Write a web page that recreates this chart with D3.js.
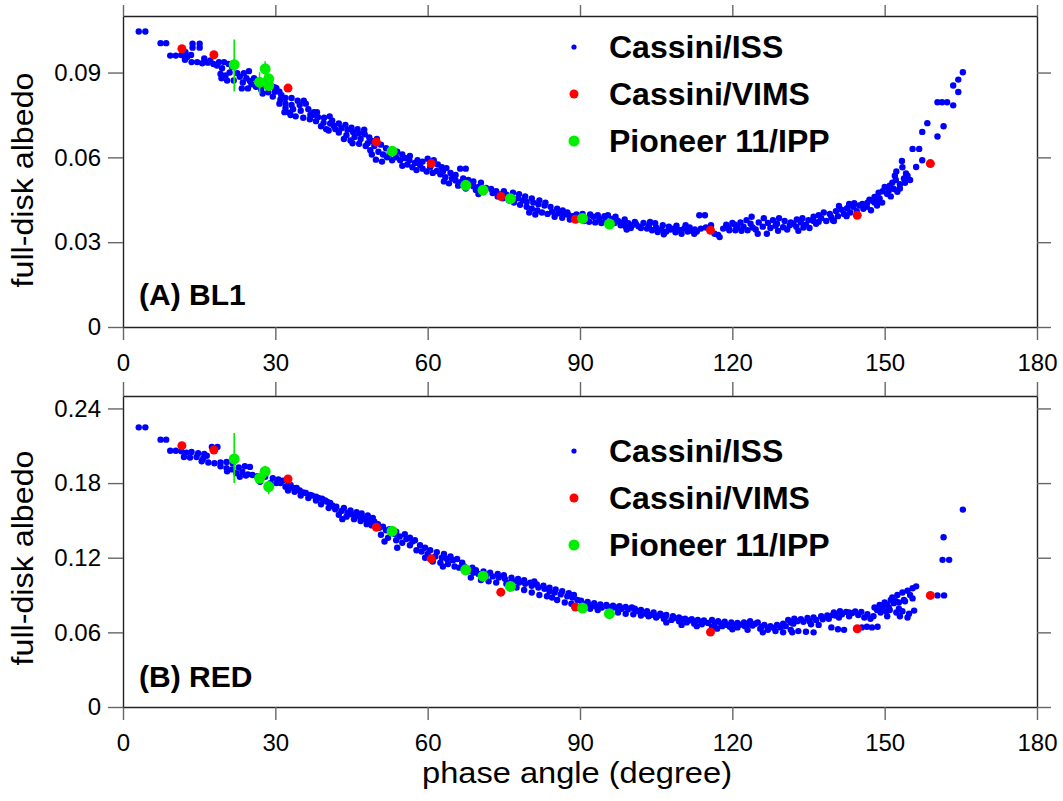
<!DOCTYPE html>
<html>
<head>
<meta charset="utf-8">
<script src="https://cdn.jsdelivr.net/npm/d3@7"></script>
<style>
  body { margin: 0; background: #fff; }
  svg { display: block; font-family: "Liberation Sans", Arial, Helvetica, sans-serif; }
</style>
</head>
<body>
<svg id="chart" width="1063" height="801"></svg>
<script>
// Phase angle ticks and albedo ticks for both panels.
const xTicks = [0, 30, 60, 90, 120, 150, 180];
const yTicksA = [0, 0.03, 0.06, 0.09];
const yTicksB = [0, 0.06, 0.12, 0.18, 0.24];
const legendNames = ["Cassini/ISS", "Cassini/VIMS", "Pioneer 11/IPP"];

// (A) BL1: Cassini/ISS [phase, albedo]
const issA = [
  [3.1,.1045],[4.4,.1045],[7.4,.1004],[8.5,.1004],
  [13.7,.1002],[15.1,.1002],[13.7,.0988],[15.1,.0988],
  [9.3,.096],[10.4,.096],[11.5,.0962],[12.3,.0972],[12.6,.0955],[13.4,.0962],[12.2,.0945],
  [13.5,.0937],[14.6,.0937],[15.6,.0933],[16.7,.0935],[17.8,.0930],[18.9,.0937],[19.9,.0937],[20.8,.0930],[17.2,.0943],[16.0,.0950],
  [19.2,.0895],[19.4,.0880],[20.5,.0872],[21.8,.0872],[23.0,.0885],[23.8,.0898],[24.3,.0880],[25.0,.0870],[23.6,.0865],[20.2,.0890],
  [21.0,.0900],[22.5,.0898],[24.8,.0905],[25.8,.0880],[26.5,.0870],[27.8,.0860],[29.0,.0858],[30.2,.0845],[31.2,.0820],[29.5,.0815],[19.5,.0915],[18.5,.0925],[21.5,.0920],
  [23.4,.0844],[24.6,.0844],
  [25.3,.0858],[26.2,.0850],[27.2,.0840],[28.6,.0830],[29.9,.0832],[30.8,.0832],[29.8,.0848],[27.5,.0826],
  [32.0,.0810],[33.2,.0810],[34.4,.0800],[32.0,.0790],[33.2,.0785],[34.8,.0785],[36.0,.0790],[32.0,.0775],[33.5,.0770],[35.0,.0765],[36.5,.0770],[37.6,.0760],[32.8,.0758],
  [34.0,.0745],[35.5,.0740],[36.8,.0735],[33.0,.0750],[31.8,.0760],[30.8,.0790],[31.0,.0805],[35.6,.0800],[36.9,.0750],[38.2,.0760],
  [37.4,.0750],[38.4,.0742],[39.6,.0740],[40.7,.0745],[38.0,.0728],[39.5,.0722],[40.8,.0720],[41.2,.0730],[39.0,.0710],
  [40.0,.0700],[41.5,.0712],[42.5,.0720],[43.8,.0715],[45.0,.0705],[46.2,.0700],[47.5,.0698],
  [40.5,.0695],[41.8,.0700],[43.0,.0703],[44.2,.0698],[45.3,.0690],[46.5,.0685],[47.6,.0682],[42.5,.0688],[44.0,.0678],[45.6,.0672],[46.8,.0665],[43.5,.0665],[44.8,.0660],
  [48.5,.0670],[49.0,.0658],[50.0,.0665],[45.2,.0650],[46.5,.0648],[47.8,.0640],[49.0,.0610],
  [48.2,.0650],[49.5,.0640],[50.8,.0645],[51.8,.0632],[48.7,.0625],[50.3,.0620],[51.2,.0610],[52.5,.0612],[53.8,.0600],[49.8,.0592],[53.0,.0590],[54.6,.0590],[55.5,.0598],[52.0,.0600],[51.0,.0585],
  [54.0,.0620],[55.0,.0610],[56.5,.0605],[57.0,.0565],[58.0,.0590],[59.0,.0585],[56.0,.0575],[55.0,.0570],
  [56.4,.0590],[57.5,.0580],[58.5,.0573],[59.0,.0560],[60.0,.0595],[61.2,.0590],[62.0,.0575],[62.8,.0565],[63.7,.0562],[57.8,.0555],[59.8,.0550],[61.0,.0545],[62.5,.0540],[60.5,.0565],
  [66.4,.0560],[67.5,.0560],
  [61.8,.0552],[63.0,.0550],[64.5,.0545],[65.5,.0538],[67.0,.0525],[68.0,.0520],[69.0,.0515],[70.5,.0510],[67.5,.0490],[70.0,.0470],
  [63.5,.0530],[64.8,.0525],[65.5,.0518],[66.5,.0512],[63.2,.0515],[64.2,.0508],[68.0,.0505],[69.0,.0498],[70.0,.0495],[71.5,.0492],[72.5,.0488],[73.5,.0480],[69.5,.0485],[71.0,.0478],[72.8,.0474],[74.5,.0470],[75.5,.0468],[66.0,.0500],
  [73.8,.0462],[74.8,.0455],[76.0,.0448],[75.0,.0480],[76.8,.0475],[78.0,.0470],[79.2,.0462],[80.5,.0455],[82.0,.0448],[83.2,.0440],
  [76.5,.0462],[77.8,.0455],[78.7,.0448],[79.5,.0442],[80.8,.0440],[81.8,.0434],[83.0,.0430],[77.0,.0440],[78.2,.0432],[79.5,.0425],[80.5,.0418],[81.6,.0412],[82.5,.0405],[83.6,.0400],
  [84.2,.0425],[85.5,.0418],[86.6,.0412],[87.5,.0405],[80.0,.0405],[81.2,.0398],
  [84.5,.0408],[85.7,.0402],[86.8,.0398],[87.8,.0395],[88.6,.0392],[85.0,.0390],[86.5,.0386],[88.0,.0380],[90.0,.0388],[91.3,.0385],[92.6,.0390],[93.8,.0382],[95.0,.0375],[91.8,.0372],[93.0,.0370],[94.2,.0368],[90.8,.0375],
  [89.3,.0398],[90.5,.0400],[92.0,.0398],[93.5,.0395],[94.8,.0392],[96.0,.0365],[95.5,.0395],[96.8,.0368],[98.0,.0360],[99.0,.0355],[100.0,.0350],
  [96.3,.0382],[97.5,.0375],[98.5,.0370],[99.5,.0367],[100.3,.0360],[101.5,.0356],[97.0,.0390],[98.8,.0380],[100.8,.0372],[102.0,.0350],[99.2,.0345],
  [101.0,.0365],[102.5,.0368],[103.8,.0372],[104.8,.0367],[106.0,.0345],[107.8,.0345],[109.0,.0358],[110.8,.0360],[112.0,.0340],[113.8,.0348],[114.8,.0352],[115.8,.0360],[112.5,.0330],
  [103.2,.0348],[104.2,.0342],[105.3,.0336],[103.6,.0360],[105.0,.0352],[106.3,.0360],[107.5,.0355],[108.4,.0348],[109.5,.0343],[110.5,.0348],[111.6,.0352],[112.6,.0345],[107.0,.0338],[108.8,.0335],[110.0,.0330],[111.2,.0338],[113.0,.0338],[106.5,.0328],
  [113.5,.0395],[114.6,.0395],[116.5,.0330],[117.5,.0318],[117.2,.0326],
  [118.2,.0348],[119.3,.0352],[120.5,.0362],[121.6,.0370],[122.8,.0378],[119.4,.0342],[120.6,.0342],[121.8,.0340],[123.0,.0342],
  [118.8,.0362],[120.0,.0368],[121.0,.0352],[122.2,.0355],[123.6,.0365],[124.6,.0345],[126.0,.0355],[127.5,.0350],[128.8,.0365],
  [124.0,.0352],[125.2,.0370],[126.2,.0385],[127.0,.0368],[125.0,.0330],[126.8,.0330],[123.8,.0390],
  [128.0,.0378],[129.2,.0385],[130.3,.0375],[131.5,.0370],[132.7,.0380],[133.8,.0385],[135.0,.0378],[136.0,.0390],[128.5,.0358],[130.0,.0353],[131.3,.0360],[132.6,.0355],[134.0,.0352],[135.2,.0350],[129.0,.0340],[133.0,.0340],[136.5,.0365],
  [130.8,.0345],[132.0,.0365],[133.5,.0370],[134.5,.0362],[136.0,.0375],[137.0,.0372],[138.5,.0375],[139.8,.0378],[140.0,.0375],
  [137.0,.0395],[138.0,.0405],[139.2,.0400],[140.4,.0410],[137.5,.0385],[139.5,.0388],
  [140.8,.0392],[142.0,.0400],[143.2,.0405],[144.5,.0410],[145.8,.0418],[146.5,.0425],[142.5,.0392],
  [141.5,.0415],[142.6,.0420],[143.8,.0425],[145.0,.0430],[141.0,.0428],[143.0,.0435],[144.0,.0438],
  [145.6,.0435],[146.6,.0440],[147.8,.0445],[148.6,.0448],[147.3,.0413],[147.0,.0450],[148.0,.0440],[148.5,.0430],[149.5,.0440],
  [148.0,.0460],[148.8,.0475],[149.6,.0480],[150.0,.0495],[151.0,.0500],[151.5,.0510],[152.2,.0520],[153.0,.0505],[153.8,.0525],[154.5,.0535],[150.5,.0470],[152.5,.0478],[149.0,.0455],[152.3,.0550],[153.5,.0565],[154.2,.0543],[156.2,.0566],
  [151.2,.0462],[150.8,.0482],[151.8,.0488],[153.0,.0490],[154.0,.0510],[152.0,.0535],[155.0,.0520],
  [153.4,.0587],[157.4,.0590],[155.5,.0630],[156.8,.0630],[157.4,.0690],[158.4,.0721],[160.4,.0674],[161.6,.0710],[160.4,.0795],[161.3,.0795],[162.3,.0795],[163.5,.0784],[164.5,.0831],[163.5,.0854],[164.5,.0875],[165.4,.0901]
];
// (A) BL1: Cassini/VIMS
const vimsA = [[11.6,.0984],[17.9,.0963],[32.5,.0845],[49.9,.0654],[60.7,.0578],[74.4,.0462],[89.1,.0381],[115.7,.0342],[144.6,.0395],[159.0,.0578]];
// (A) BL1: Pioneer 11/IPP [phase, albedo, low, high]
const ippA = [[21.9,.0928,.0833,.1017],[26.9,.0866,.0825,.0901],[28.0,.0913,.0848,.0940],[28.7,.0878,.0848,.0885],[28.7,.0854,.0845,.0862],
  [53.0,.0622,.0615,.0629],[67.5,.0501,.0496,.0506],[70.9,.0484,.0479,.0489],[76.3,.0454,.0449,.0459],[90.5,.0384,.0380,.0388],[95.8,.0364,.0360,.0368]];

// (B) RED: Cassini/ISS
const issB = [
  [3.1,.2248],[4.4,.2248],[7.4,.2149],[8.5,.2149],
  [9.3,.206],[10.4,.206],[11.5,.2055],[12.5,.2045],[13.5,.2050],[14.8,.2040],[16.0,.2035],[12.0,.2010],[13.2,.2005],[14.5,.2010],[15.8,.2000],[17.5,.2090],[18.6,.2090],[16.5,.2020],
  [15.5,.1975],[16.8,.1965],[18.0,.1960],[19.2,.1965],[20.4,.1970],[21.6,.1960],
  [19.2,.1935],[20.4,.1920],[21.5,.1910],[22.8,.1925],[24.0,.1935],[25.0,.1930],[20.5,.1895],[22.3,.1880],[23.5,.1890],[24.6,.1870],[23.0,.1850],[24.2,.1860],
  [25.5,.1865],[26.5,.1855],[28.0,.1850],[29.5,.1840],[30.6,.1830],[31.5,.1820],[27.0,.1810],[29.0,.1800],[30.2,.1800],
  [31.0,.1800],[32.0,.1770],[33.0,.1785],[34.2,.1760],[35.5,.1725],[36.8,.1705],[38.0,.1690],[39.2,.1675],[40.2,.1650],[41.2,.1620],
  [32.5,.1780],[33.5,.1760],[34.8,.1740],[36.0,.1720],[37.2,.1700],[38.5,.1680],[39.8,.1660],[40.8,.1640],[32.5,.1740],[33.8,.1730],[36.5,.1680],[38.0,.1660],[39.0,.1630],[35.0,.1700],
  [42.0,.1610],[43.5,.1600],[44.8,.1580],[46.0,.1565],[47.0,.1555],[48.2,.1540],[49.2,.1520],[49.0,.1460],[50.2,.1470],[51.2,.1450],
  [40.5,.1600],[41.8,.1590],[43.0,.1575],[44.2,.1560],[45.5,.1545],[46.6,.1530],[47.6,.1510],[42.5,.1545],[44.0,.1530],[45.5,.1510],[46.8,.1495],[43.2,.1510],[48.0,.1470],
  [44.6,.1550],[46.0,.1540],[47.2,.1525],[48.5,.1500],[49.5,.1490],
  [52.5,.1430],[53.8,.1410],[55.5,.1390],[56.5,.1360],[57.5,.1340],[58.5,.1300],[59.5,.1280],[60.5,.1260],
  [50.5,.1440],[51.8,.1420],[53.5,.1390],[54.5,.1370],[55.8,.1350],[57.0,.1330],[50.8,.1385],[52.2,.1360],[53.8,.1340],[55.0,.1320],[56.5,.1300],[51.5,.1330],[54.0,.1280],
  [61.8,.1245],[63.2,.1230],[64.5,.1210],[65.8,.1190],[66.8,.1160],[67.2,.1130],[68.8,.1120],[69.5,.1100],
  [57.8,.1260],[58.8,.1250],[60.0,.1230],[61.5,.1210],[62.8,.1200],[63.8,.1190],[65.0,.1180],[59.5,.1200],[61.0,.1170],[62.5,.1160],[64.0,.1150],[65.3,.1130],[63.0,.1130],
  [71.0,.1090],[72.3,.1080],[73.8,.1070],[75.0,.1060],[76.0,.1000],[77.8,.1030],[79.0,.1020],[80.2,.1000],[81.5,.0985],[82.8,.0975],
  [66.2,.1120],[67.8,.1090],[69.0,.1080],[70.0,.1070],[71.5,.1060],[72.8,.1050],[74.0,.1040],[75.2,.1030],[68.5,.1040],[70.5,.1020],[72.0,.1010],[73.5,.1000],[75.5,.0990],[77.0,.1010],
  [76.5,.1040],[78.0,.1000],[79.2,.0990],[80.5,.0975],[81.8,.0960],[83.0,.0950],[77.5,.0960],[79.0,.0940],[80.5,.0920],[82.0,.0900],[83.5,.0890],[81.0,.1010],[84.0,.0930],
  [84.0,.0960],[85.2,.0945],[86.5,.0930],[87.8,.0915],[88.8,.0900],[89.5,.0860],
  [85.0,.0920],[86.2,.0905],[87.5,.0890],[88.5,.0880],[85.5,.0860],[87.0,.0840],[88.3,.0830],[84.5,.0880],
  [90.2,.0855],[91.5,.0845],[92.8,.0835],[94.0,.0825],[95.2,.0820],[96.5,.0815],[97.8,.0810],[99.0,.0805],[100.2,.0800],
  [90.5,.0830],[91.8,.0820],[93.0,.0810],[94.3,.0800],[95.5,.0805],[97.0,.0800],[98.2,.0790],[99.5,.0785],[100.8,.0790],[102.0,.0780],[103.2,.0770],[92.0,.0790],[93.5,.0780],[97.5,.0760],[99.0,.0750],[100.5,.0745],[102.0,.0735],[103.5,.0730],[96.0,.0772],
  [101.5,.0770],[103.0,.0750],[104.0,.0740],[105.2,.0730],[106.8,.0725],[108.5,.0715],[110.0,.0705],[111.5,.0695],[112.8,.0690],[114.0,.0680],[115.2,.0675],
  [104.5,.0760],[105.8,.0750],[107.0,.0740],[108.3,.0730],[109.5,.0720],[110.7,.0710],[112.0,.0705],[113.2,.0700],[114.4,.0695],[105.0,.0720],[106.5,.0710],[108.0,.0700],[109.5,.0690],[111.0,.0680],[112.5,.0670],[114.0,.0665],[107.0,.0680],[110.0,.0660],[113.0,.0650],[106.0,.0740],
  [116.0,.0645],[117.8,.0670],[119.0,.0660],[120.5,.0658],[121.8,.0662],[123.2,.0665],[124.5,.0670],
  [116.0,.0700],[117.2,.0690],[118.5,.0685],[119.8,.0680],[121.0,.0675],[122.3,.0680],[123.5,.0690],[116.5,.0660],[118.0,.0650],[119.5,.0645],[121.0,.0640],[122.5,.0650],[124.0,.0655],[117.0,.0630],[120.0,.0625],[123.0,.0620],
  [125.8,.0645],[127.2,.0640],[128.2,.0635],[129.5,.0640],[130.5,.0650],
  [125.0,.0680],[126.3,.0660],[127.5,.0650],[128.8,.0660],[130.0,.0670],[125.5,.0630],[127.0,.0620],[128.5,.0610],[130.0,.0600],[126.0,.0600],
  [131.5,.0680],[132.8,.0690],[134.0,.0685],[135.2,.0690],[136.5,.0700],[137.8,.0705],[139.0,.0710],
  [131.0,.0700],[132.2,.0710],[133.5,.0705],[134.8,.0715],[136.0,.0720],[137.5,.0730],[138.7,.0735],[139.8,.0740],[131.5,.0620],[133.0,.0610],[134.5,.0605],[136.0,.0600],[132.0,.0670],[135.5,.0665],[137.0,.0660],[131.8,.0600],
  [139.5,.0640],[140.8,.0625],[142.0,.0620],
  [140.3,.0735],[141.6,.0745],[143.0,.0760],[144.2,.0768],[145.4,.0765],[146.6,.0745],[147.8,.0730],
  [140.0,.0760],[141.2,.0770],[142.4,.0765],[143.6,.0755],[144.8,.0740],[146.0,.0720],[147.2,.0710],[141.0,.0720],[143.0,.0730],
  [145.5,.0640],[146.5,.0645],[147.5,.0640],[148.6,.0645],
  [148.5,.0780],[149.5,.0800],[150.5,.0820],[151.0,.0780],[151.8,.0835],[152.8,.0840],[154.0,.0850],[155.0,.0900],[152.8,.0790],
  [148.0,.0800],[149.0,.0820],[150.0,.0840],[149.2,.0760],[150.3,.0770],[150.5,.0730],[151.2,.0860],[150.8,.0800],
  [151.5,.0880],[152.5,.0900],[153.5,.0920],[154.5,.0935],[155.5,.0955],[156.2,.0970],[152.2,.0850],[153.8,.0860],[155.5,.0873],
  [152.3,.0760],[153.5,.0770],[154.8,.0750],[155.8,.0775],[153.0,.0730],[154.5,.0720],
  [160.4,.0897],[161.7,.0897],[161.4,.1183],[162.7,.1183],[161.6,.1365],[165.4,.1587]
];
// (B) RED: Cassini/VIMS
const vimsB = [[11.6,.2101],[17.9,.2066],[32.5,.1833],[49.9,.1445],[60.7,.1191],[74.4,.0923],[89.1,.0803],[115.7,.0602],[144.6,.0629],[159.0,.0897]];
// (B) RED: Pioneer 11/IPP [phase, albedo, low, high]
const ippB = [[21.9,.1994,.1801,.2203],[26.9,.1838,.1810,.1870],[28.0,.1894,.1840,.1940],[28.7,.1772,.1710,.1820],
  [53.0,.1413,.1400,.1426],[67.5,.1103,.1092,.1114],[70.9,.1052,.1041,.1063],[76.3,.0969,.0958,.0980],[90.5,.0795,.0786,.0804],[95.8,.0750,.0741,.0759]];

const svg = d3.select("#chart");
const left = 123, right = 1037;
const x = d3.scaleLinear().domain([0, 180]).range([left, right]);

const colors = { iss: "#0000ff", vims: "#ff0000", ipp: "#00ee00" };
const radii = { iss: 3.2, vims: 4.5, ipp: 5.5 };

function drawPanel(p) {
  const y = d3.scaleLinear().domain([0, p.yMax]).range([p.bottom, p.top]);
  const g = svg.append("g");
  const fmt = d => d === 0 ? "0" : d3.format(".2f")(d);

  // axes on all four sides, ticks pointing out
  const bottomAxis = g.append("g").attr("transform", `translate(0,${p.bottom})`)
    .call(d3.axisBottom(x).tickValues(xTicks).tickSize(13).tickPadding(14).tickSizeOuter(0));
  const topAxis = g.append("g").attr("transform", `translate(0,${p.top})`)
    .call(d3.axisTop(x).tickValues(xTicks).tickSize(p.topTick).tickFormat("").tickSizeOuter(0));
  const leftAxis = g.append("g").attr("transform", `translate(${left},0)`)
    .call(d3.axisLeft(y).tickValues(p.yTicks).tickSize(15).tickPadding(7).tickFormat(fmt).tickSizeOuter(0));
  const rightAxis = g.append("g").attr("transform", `translate(${right},0)`)
    .call(d3.axisRight(y).tickValues(p.yTicks).tickSize(14).tickFormat("").tickSizeOuter(0));

  [bottomAxis, topAxis, leftAxis, rightAxis].forEach(a => {
    a.select(".domain").attr("stroke", "#222").attr("stroke-width", 1.4);
    a.selectAll(".tick line").attr("stroke", "#666").attr("stroke-width", 1.4);
    a.selectAll("text").attr("font-size", 24).attr("fill", "#000")
      .attr("font-family", "'Liberation Sans', Arial, sans-serif");
  });

  // y title
  g.append("text")
    .attr("transform", `translate(33,${p.yTitle}) rotate(-90)`)
    .attr("text-anchor", "middle")
    .attr("font-size", 30)
    .attr("textLength", 215).attr("lengthAdjust", "spacingAndGlyphs")
    .text("full-disk albedo");

  // panel label
  g.append("text")
    .attr("x", 139).attr("y", p.labelY)
    .attr("font-size", 30).attr("font-weight", "bold")
    .text(p.label);

  // Cassini/ISS
  g.append("g").selectAll("circle").data(p.iss).join("circle")
    .attr("cx", d => x(d[0])).attr("cy", d => y(d[1]))
    .attr("r", radii.iss).attr("fill", colors.iss);

  // Cassini/VIMS
  g.append("g").selectAll("circle").data(p.vims).join("circle")
    .attr("cx", d => x(d[0])).attr("cy", d => y(d[1]))
    .attr("r", radii.vims).attr("fill", colors.vims);

  // Pioneer 11/IPP with error bars
  g.append("g").selectAll("line").data(p.ipp).join("line")
    .attr("x1", d => x(d[0])).attr("x2", d => x(d[0]))
    .attr("y1", d => y(d[2])).attr("y2", d => y(d[3]))
    .attr("stroke", colors.ipp).attr("stroke-width", 1.6);
  g.append("g").selectAll("circle").data(p.ipp).join("circle")
    .attr("cx", d => x(d[0])).attr("cy", d => y(d[1]))
    .attr("r", radii.ipp).attr("fill", colors.ipp);

  // legend
  const keys = ["iss", "vims", "ipp"];
  const leg = g.append("g");
  keys.forEach((k, i) => {
    const ly = p.legendY + i * 47;
    leg.append("circle").attr("cx", 574).attr("cy", ly - 11)
      .attr("r", k === "iss" ? 2.6 : radii[k]).attr("fill", colors[k]);
    leg.append("text").attr("x", 609).attr("y", ly)
      .attr("font-size", 32).attr("font-weight", "bold")
      .text(legendNames[i]);
  });
}

drawPanel({ top: 16, bottom: 327, yMax: 0.11, yTicks: yTicksA, topTick: 11, yTitle: 180,
  label: "(A) BL1", labelY: 305, legendY: 58, iss: issA, vims: vimsA, ipp: ippA });
drawPanel({ top: 396, bottom: 707, yMax: 0.25, yTicks: yTicksB, topTick: 14, yTitle: 558,
  label: "(B) RED", labelY: 687, legendY: 462, iss: issB, vims: vimsB, ipp: ippB });

// x title
svg.append("text")
  .attr("x", 577).attr("y", 783)
  .attr("text-anchor", "middle")
  .attr("font-size", 30)
  .attr("textLength", 310).attr("lengthAdjust", "spacingAndGlyphs")
  .text("phase angle (degree)");
</script>
</body>
</html>
